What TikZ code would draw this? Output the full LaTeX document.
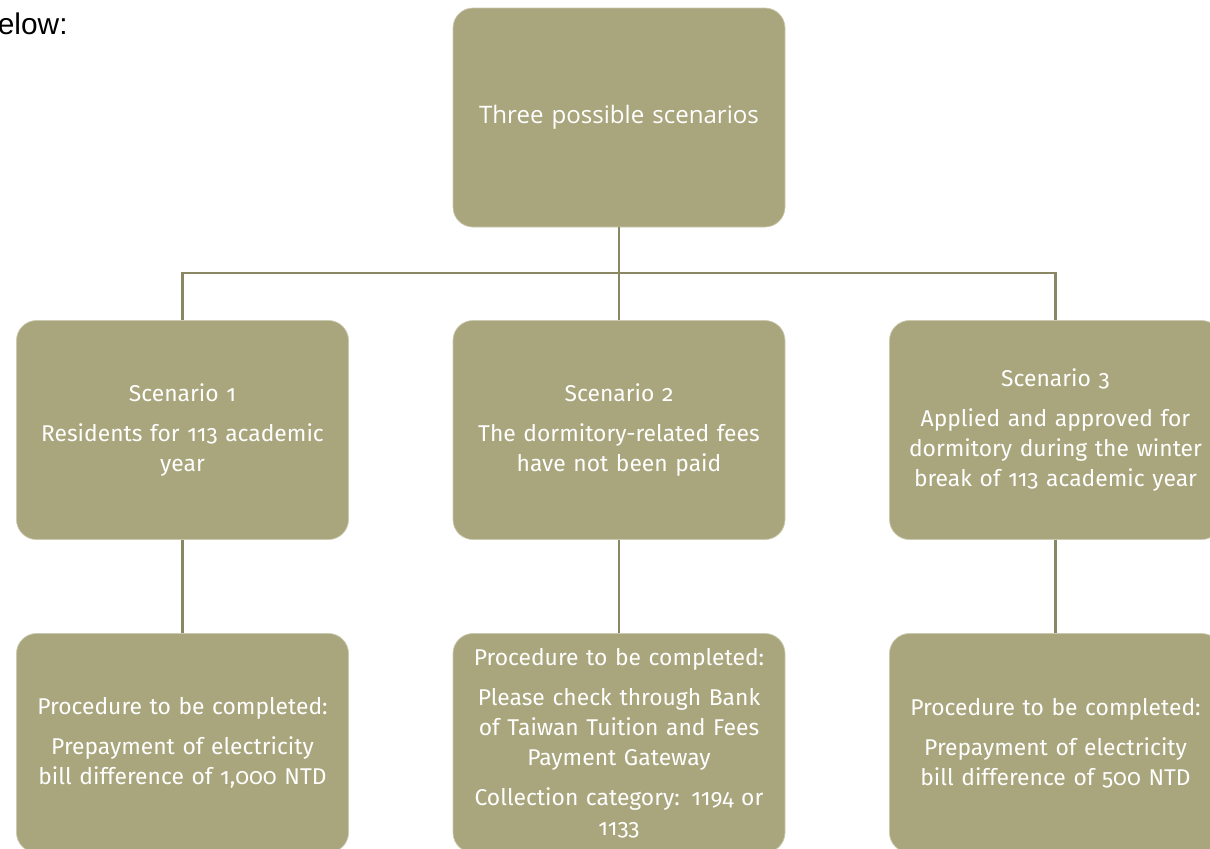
\documentclass[tikz,border=0pt]{standalone}
\usepackage{fontspec}
\setmainfont{Fira Sans}[Numbers=OldStyle]
\newfontfamily\headfont{Open Sans}
\newfontfamily\slidefont{Liberation Sans}
\usepackage{tikz}
\usetikzlibrary{positioning}
\definecolor{boxfill}{RGB}{169,165,124}
\definecolor{linkcol}{RGB}{138,135,100}

\begin{document}
\begin{tikzpicture}[
		box/.style={rectangle, rounded corners=0.4cm, fill=boxfill, draw=boxfill!60!white, line width=0.4pt,
			minimum width=6.64cm, minimum height=4.38cm, text width=6.4cm, align=center, text=white,
			font=\fontsize{13}{17}\selectfont},
		link/.style={draw=linkcol, line width=1.3pt}
		]
	\useasboundingbox (0,0) rectangle (24.2,-16.96);

	\node[anchor=base west, font=\slidefont\fontsize{17}{20}\selectfont, inner sep=0pt] (lead) at (-0.05,-0.68) {elow:};

	\node[box, font=\headfont\fontsize{13.7}{17}\selectfont] (top) at (12.38,-2.35) {Three possible scenarios};

	\node[box] (sc1) at (3.65,-8.6) {Scenario 1\\[6pt] Residents for 113 academic\\ year};
	\node[box] (sc2) at (12.38,-8.6) {Scenario 2\\[6pt] The dormitory-related fees\\ have not been paid};
	\node[box] (sc3) at (21.11,-8.6) {Scenario 3\\[6pt] Applied and approved for\\ dormitory during the winter\\ break of 113 academic year};

	\node[box] (pr1) at (3.65,-14.86) {Procedure to be completed:\\[6pt] Prepayment of electricity\\ bill difference of 1,000 NTD};
	\node[box] (pr2) at (12.38,-14.86) {Procedure to be completed:\\[6pt] Please check through Bank\\ of Taiwan Tuition and Fees\\ Payment Gateway\\[6pt] Collection category: 1194 or\\ 1133};
	\node[box] (pr3) at (21.11,-14.86) {Procedure to be completed:\\[6pt] Prepayment of electricity\\ bill difference of 500 NTD};

	% tree connectors
	\coordinate (bus) at (12.38,-5.46);
	\coordinate (busL) at (sc1.north |- bus);
	\coordinate (busR) at (sc3.north |- bus);
	\draw[link] (top.south) -- (sc2.north);
	\draw[link] (sc1.north) -- (busL) -- (busR) -- (sc3.north);

	\draw[link] (sc1.south) -- (pr1.north);
	\draw[link] (sc2.south) -- (pr2.north);
	\draw[link] (sc3.south) -- (pr3.north);

\end{tikzpicture}
\end{document}
